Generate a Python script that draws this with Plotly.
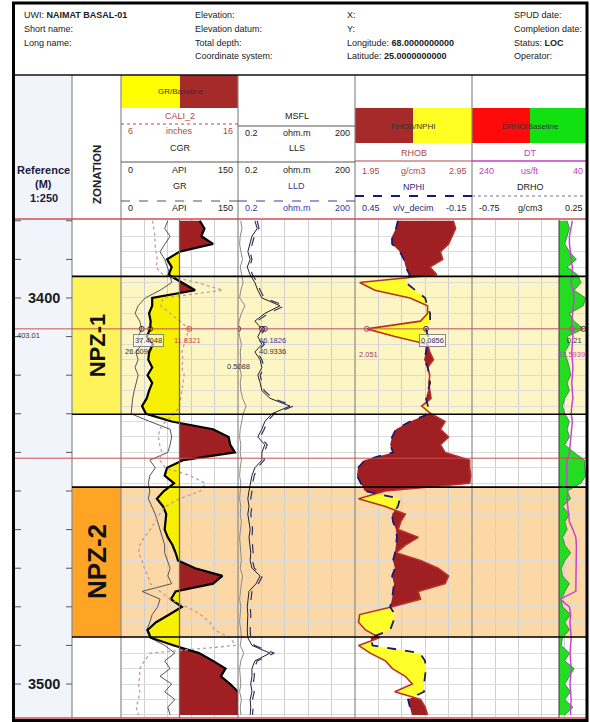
import numpy as np
import plotly.graph_objects as go

W, H = 590, 722
def X(px): return px / W
def Y(py): return 1 - py / H

# ---------------- data ----------------
depth = [3380, 3382, 3384, 3386, 3388, 3390, 3392, 3394, 3396, 3398,
         3400, 3402, 3404, 3406, 3408, 3410, 3412, 3414, 3416, 3418,
         3420, 3422, 3424, 3426, 3428, 3430, 3432, 3434, 3436, 3438,
         3440, 3442, 3444, 3446, 3448, 3450, 3452, 3454, 3456, 3458,
         3460, 3462, 3464, 3466, 3468, 3470, 3472, 3474, 3476, 3478,
         3480, 3482, 3484, 3486, 3488, 3490, 3492, 3494, 3496, 3498,
         3500, 3502, 3504, 3506, 3508]

gr = [101, 107, 103, 118, 75, 59, 65, 61, 78, 95,
      40, 40, 36, 38, 37.4048, 33, 41, 36, 35, 40,
      34, 40, 36, 33, 27, 32, 65, 118, 138, 140,
      146, 80, 59, 56, 68, 55, 46, 54, 58, 57,
      56, 60, 66, 70, 73, 95, 130, 118, 70, 64,
      78, 62, 45, 34, 38, 68, 100, 118, 134, 128,
      140, 150, 150, 150, 150]

cgr = [60, 56, 63, 56, 50, 56, 60, 63, 65, 50,
       31, 22, 18, 24, 26.6097, 22, 27, 19, 22, 18,
       22, 19, 17, 15, 14, 13, 37, 63, 65, 63,
       60, 37, 44, 37, 35, 37, 35, 40, 44, 47,
       50, 54, 56, 56, 60, 63, 60, 65, 27, 50,
       47, 40, 37, 33, 37, 56, 69, 56, 63, 50,
       65, 56, 69, 60, 63]

cali_2 = [8.7, 8.8, 8.9, 8.9, 9.0, 9.1, 9.0, 9.6, 12.5, 14.7,
          9.6, 9.4, 10.2, 11.0, 11.8321, 11.6, 11.4, 11.2, 11.3, 11.2,
          11.4, 11.3, 11.2, 11.1, 11.0, 10.6, 9.8, 9.3, 9.2, 9.3,
          9.5, 9.3, 9.8, 11.9, 13.2, 12.8, 11.0, 9.8, 9.3, 8.9,
          8.5, 8.0, 7.6, 7.5, 7.8, 8.0, 8.3, 8.5, 9.3, 10.2,
          11.6, 12.8, 13.6, 14.0, 15.3, 15.8, 8.5, 8.0, 7.6, 7.6,
          7.5, 7.6, 7.5, 7.3, 7.5]

msfl = [5, 7, 4, 3, 5, 8, 4, 6, 9, 5,
        3, 12, 6, 2, 0.5088, 3, 6, 4, 5, 3,
        6, 4, 5, 8, 14, 9, 6, 4, 3, 5,
        4, 6, 4, 3, 5, 4, 3, 5, 4, 6,
        5, 3, 4, 5, 6, 4, 8, 6, 4, 3,
        5, 4, 3, 5, 6, 4, 10, 5, 3, 4,
        5, 3, 6, 4, 5]

lls = [29, 33, 24, 21, 17, 21, 16, 21, 29, 34,
       41, 72, 46, 29, 40.9336, 34, 41, 29, 38, 41,
       34, 38, 41, 55, 89, 58, 46, 41, 34, 46,
       41, 41, 29, 24, 21, 19, 17, 19, 17, 19,
       21, 19, 21, 22, 21, 24, 38, 31, 19, 17,
       16, 17, 16, 16, 17, 24, 55, 29, 24, 24,
       22, 24, 21, 22, 21]

lld = [33, 36, 28, 24, 21, 24, 20, 25, 33, 38,
       45, 80, 52, 33, 46.1826, 38, 45, 33, 41, 45,
       38, 41, 45, 60, 95, 62, 50, 45, 38, 50,
       45, 45, 33, 28, 25, 24, 22, 24, 22, 24,
       25, 24, 25, 26, 25, 28, 42, 35, 24, 22,
       21, 22, 21, 21, 22, 28, 62, 33, 28, 28,
       26, 28, 25, 26, 25]

rhob = [2.79, 2.81, 2.78, 2.75, 2.68, 2.70, 2.59, 2.65, 1.99, 2.12,
        2.42, 2.57, 2.57, 2.51, 2.051, 2.29, 2.57, 2.59, 2.62, 2.57,
        2.59, 2.58, 2.59, 2.60, 2.52, 2.60, 2.72, 2.68, 2.75, 2.68,
        2.72, 2.93, 2.93, 2.94, 2.93, 2.21, 1.98, 2.21, 2.38, 2.34,
        2.32, 2.49, 2.38, 2.30, 2.51, 2.66, 2.75, 2.72, 2.49, 2.51,
        2.27, 1.99, 1.98, 2.04, 2.16, 1.98, 2.08, 2.21, 2.27, 2.38,
        2.44, 2.29, 2.51, 2.55, 2.57]

nphi = [0.23, 0.24, 0.26, 0.26, 0.22, 0.20, 0.19, 0.17, 0.19, 0.14,
        0.09, 0.08, 0.065, 0.065, 0.0856, 0.076, 0.081, 0.086, 0.096, 0.076,
        0.071, 0.065, 0.076, 0.086, 0.076, 0.071, 0.168, 0.24, 0.26, 0.27,
        0.255, 0.40, 0.435, 0.44, 0.42, 0.40, 0.22, 0.23, 0.26, 0.255,
        0.24, 0.235, 0.24, 0.245, 0.255, 0.245, 0.26, 0.25, 0.255, 0.26,
        0.27, 0.245, 0.255, 0.27, 0.37, 0.36, 0.117, 0.091, 0.086, 0.091,
        0.096, 0.096, 0.178, 0.168, 0.158]

drho = [0.07, 0.09, 0.07, 0.05, 0.09, 0.15, 0.07, 0.16, 0.19, 0.13,
        0.23, 0.21, 0.09, 0.13, 0.21, 0.07, 0.09, 0.05, 0.07, 0.09,
        0.10, 0.07, 0.09, 0.05, 0.03, 0.05, 0.09, 0.07, 0.09, 0.05,
        0.13, 0.22, 0.22, 0.23, 0.19, 0.07, 0.10, 0.03, 0.09, 0.05,
        0.07, 0.03, 0.05, 0.10, 0.05, 0.02, 0.03, 0.09, 0.05, 0.02,
        0.03, 0.10, 0.05, 0.09, 0.03, 0.02, 0.09, 0.05, 0.13, 0.09,
        0.05, 0.10, 0.05, 0.12, 0.05]

dt = [67, 70, 72, 72, 71, 69, 67, 68, 69, 66,
      64, 65, 67, 68, 67.5939, 66, 67, 68, 67, 66,
      67, 68, 67, 66, 68, 69, 67, 68, 69, 70,
      72, 76, 77, 76, 77, 75, 76, 75, 74, 72,
      66, 61, 60, 60, 61, 60, 60, 61, 61, 88,
      72, 70, 71, 70, 69, 70, 71, 70, 69, 70,
      71, 70, 69, 70, 70]

for arr in (gr, cgr, cali_2, msfl, lls, lld, rhob, nphi, drho, dt):
    assert len(arr) == len(depth)

zone_names = ["NPZ-1", "NPZ-2"]
zone_top = [3394.4, 3449.0]
zone_base = [3430.1, 3487.8]
zone_cell_colors = ["#fff35c", "#ffa424"]
zone_band_colors = ["#fdf6c4", "#fbd8a5"]
zone_font_sizes = [22, 26]

cursor_depths = [3408.0, 3441.5]
cursor_label = "403.01"
depth_range = [3508.8, 3379.8]
ref_ticks = [3380, 3390, 3400, 3410, 3420, 3430, 3440, 3450, 3460, 3470, 3480, 3490, 3500]
ref_labels = [3400, 3500]

gr_range = [0, 150]
cali_range = [6, 16]
res_range = [0.2, 200]
rhob_range = [1.95, 2.95]
nphi_range = [0.45, -0.15]
drho_range = [-0.75, 0.25]
dt_range = [240, 40]
gr_baseline = 75
drho_baseline = 0.0

# ---------------- helpers ----------------
def cross_fill(y, a, b, sign):
    y = np.asarray(y, float); a = np.asarray(a, float); b = np.asarray(b, float)
    ys, av, bv = [y[0]], [a[0]], [b[0]]
    for i in range(len(y) - 1):
        d0 = a[i] - b[i]; d1 = a[i + 1] - b[i + 1]
        if d0 * d1 < 0:
            t = d0 / (d0 - d1)
            yc = y[i] + t * (y[i + 1] - y[i])
            bc = b[i] + t * (b[i + 1] - b[i])
            ys.append(yc); av.append(bc); bv.append(bc)
        ys.append(y[i + 1]); av.append(a[i + 1]); bv.append(b[i + 1])
    ys = np.array(ys); av = np.array(av); bv = np.array(bv)
    clip = np.where(sign * (av - bv) > 0, av, bv)
    return np.concatenate([clip, bv[::-1]]), np.concatenate([ys, ys[::-1]])

def fill_trace(px, py, xa, color):
    return go.Scatter(x=px, y=py, xaxis=xa, yaxis="y", mode="lines", fill="toself",
                      fillcolor=color, line=dict(width=0), hoverinfo="skip", showlegend=False)

def line_trace(x, xa, color, width=1, dash="solid"):
    return go.Scatter(x=x, y=depth, xaxis=xa, yaxis="y", mode="lines",
                      line=dict(color=color, width=width, dash=dash),
                      hoverinfo="skip", showlegend=False)

shapes = []
annotations = []

def rect_px(x0, y0, x1, y1, fill, line_color=None, lw=0, layer="below"):
    shapes.append(dict(type="rect", xref="paper", yref="paper", x0=X(x0), x1=X(x1),
                       y0=Y(y1), y1=Y(y0), fillcolor=fill, layer=layer,
                       line=dict(width=lw, color=line_color or fill)))

def hline_px(y, x0, x1, color, width=1, dash="solid"):
    shapes.append(dict(type="line", xref="paper", yref="paper", x0=X(x0), x1=X(x1),
                       y0=Y(y), y1=Y(y), line=dict(color=color, width=width, dash=dash)))

def vline_px(x, y0, y1, color, width=1, dash="solid"):
    shapes.append(dict(type="line", xref="paper", yref="paper", x0=X(x), x1=X(x),
                       y0=Y(y0), y1=Y(y1), line=dict(color=color, width=width, dash=dash)))

FONT = "Liberation Sans, Arial, sans-serif"

def text_px(txt, x, y, size=9, color="#222", xanchor="center", angle=0, bold=False):
    if bold:
        txt = "<b>" + txt + "</b>"
    annotations.append(dict(text=txt, x=X(x), y=Y(y), xref="paper", yref="paper",
                            xanchor=xanchor, yanchor="middle", showarrow=False,
                            textangle=angle, font=dict(family=FONT, size=size, color=color)))

# ---------------- traces ----------------
traces = []
# GR track fills
px, py = cross_fill(depth, gr, [gr_baseline] * len(depth), -1)
traces.append(fill_trace(px, py, "x", "#f7f000"))
px, py = cross_fill(depth, gr, [gr_baseline] * len(depth), 1)
traces.append(fill_trace(px, py, "x", "#a01f22"))
traces.append(line_trace(cgr, "x", "#555555", 1))
traces.append(line_trace(gr, "x", "#000000", 2.2))
traces.append(line_trace(cali_2, "x2", "#c49a9a", 1.3, "dot"))

# Resistivity
traces.append(line_trace(msfl, "x3", "#8a8a8a", 1))
traces.append(line_trace(lls, "x3", "#222222", 1))
traces.append(line_trace(lld, "x3", "#2e2e70", 1.2, "dash"))

# Density / Neutron
nphi_eq = [rhob_range[0] + (nphi_range[0] - v) / (nphi_range[0] - nphi_range[1])
           * (rhob_range[1] - rhob_range[0]) for v in nphi]
px, py = cross_fill(depth, rhob, nphi_eq, 1)
traces.append(fill_trace(px, py, "x4", "#a01f22"))
px, py = cross_fill(depth, rhob, nphi_eq, -1)
traces.append(fill_trace(px, py, "x4", "#ffff2a"))
traces.append(line_trace(rhob, "x4", "#b8322a", 1.6))
traces.append(line_trace(nphi, "x5", "#1a1a6e", 1.8, "dash"))

# DT / DRHO
px, py = cross_fill(depth, drho, [drho_baseline] * len(depth), 1)
traces.append(fill_trace(px, py, "x6", "#22dd22"))
traces.append(line_trace(drho, "x6", "#4a6a4a", 0.8))
traces.append(line_trace(dt, "x7", "#c845d0", 1.5))

# cursor markers
ci = depth.index(int(cursor_depths[0]))
for vals, xa, col in [(gr, "x", "#333"), (cgr, "x", "#333"), (cali_2, "x2", "#c04848"),
                      (lld, "x3", "#3a3aa0"), (lls, "x3", "#333"), (msfl, "x3", "#333"),
                      (rhob, "x4", "#a04070"), (nphi, "x5", "#2a2a7a"),
                      (drho, "x6", "#333"), (dt, "x7", "#c040c0")]:
    traces.append(go.Scatter(x=[vals[ci]], y=[depth[ci]], xaxis=xa, yaxis="y", mode="markers",
                             marker=dict(symbol="circle-open", size=5, color=col, line=dict(width=1)),
                             hoverinfo="skip", showlegend=False))

fig = go.Figure(traces)

# ---------------- backgrounds ----------------
rect_px(15, 75, 72, 718, "#f1f5fb")
for top, base, cc, bc in zip(zone_top, zone_base, zone_cell_colors, zone_band_colors):
    shapes.append(dict(type="rect", xref="paper", yref="y", x0=X(121), x1=X(588), y0=top, y1=base,
                       fillcolor=bc, line=dict(width=0), layer="below"))
    shapes.append(dict(type="rect", xref="paper", yref="y", x0=X(72), x1=X(121), y0=top, y1=base,
                       fillcolor=cc, line=dict(width=0), layer="below"))

# header colored boxes
rect_px(121, 75, 180, 108, "#ffff00")
rect_px(180, 75, 238, 108, "#a52a2a")
rect_px(355, 108, 413, 143, "#a52a2a")
rect_px(413, 108, 472, 143, "#ffff22")
rect_px(472, 108, 530, 143, "#ff0a0a")
rect_px(530, 108, 588, 143, "#11e011")

# baselines
shapes.append(dict(type="line", xref="x", yref="y", x0=gr_baseline, x1=gr_baseline,
                   y0=depth_range[0], y1=depth_range[1], line=dict(color="#6a6a6a", width=1.3)))
shapes.append(dict(type="line", xref="x6", yref="y", x0=drho_baseline, x1=drho_baseline,
                   y0=depth_range[0], y1=depth_range[1], line=dict(color="#3a3a3a", width=1)))

# track borders
for xb in [72, 121, 238, 355, 472]:
    vline_px(xb, 75, 718, "#8a8a8a", 1.2)

# header row lines
hline_px(124, 121, 238, "#b04848", 1, "dot")
hline_px(162, 121, 238, "#555555", 1)
hline_px(201, 121, 238, "#555555", 1, "dash")
hline_px(126, 238, 355, "#555555", 1)
hline_px(162, 238, 355, "#555555", 1)
hline_px(201, 238, 355, "#3a3aa0", 1.2, "dash")
hline_px(161, 355, 472, "#b04848", 1.2)
hline_px(196, 355, 472, "#1a1a6e", 2, "dash")
hline_px(161, 472, 588, "#c040c0", 1.5)
hline_px(196, 472, 588, "#777777", 1, "dot")

# zone boundaries
for d in zone_top + zone_base:
    shapes.append(dict(type="line", xref="paper", yref="y", x0=X(72), x1=X(588), y0=d, y1=d,
                       line=dict(color="#000000", width=1.6)))

# red lines
hline_px(219, 15, 588, "#c85050", 1.6)
hline_px(718, 15, 588, "#c85050", 1.6)
for d in cursor_depths:
    shapes.append(dict(type="line", xref="paper", yref="y", x0=X(15), x1=X(588), y0=d, y1=d,
                       line=dict(color="#c85050", width=1)))

# reference ticks
for d in ref_ticks:
    for xa, xb in [(15, 21), (66, 72)]:
        shapes.append(dict(type="line", xref="paper", yref="y", x0=X(xa), x1=X(xb), y0=d, y1=d,
                           line=dict(color="#555555", width=1)))

# header separator & frame
hline_px(75, 15, 588, "#111111", 1.5)
shapes.append(dict(type="rect", xref="paper", yref="paper", x0=X(13.5), x1=X(587), y0=Y(720.5), y1=Y(3),
                   line=dict(color="#000000", width=3), fillcolor="rgba(0,0,0,0)", layer="above"))

# ---------------- texts ----------------
hdr = [("UWI: <b>NAIMAT BASAL-01</b>", 22, 15), ("Short name:", 22, 29), ("Long name:", 22, 43),
       ("Elevation:", 193, 15), ("Elevation datum:", 193, 29), ("Total depth:", 193, 43),
       ("Coordinate system:", 193, 56),
       ("X:", 345, 15), ("Y:", 345, 29), ("Longitude: <b>68.0000000000</b>", 345, 43),
       ("Latitude: <b>25.0000000000</b>", 345, 56),
       ("SPUD date:", 512, 15), ("Completion date:", 512, 29), ("Status: <b>LOC</b>", 512, 43),
       ("Operator:", 512, 56)]
for t, x, y in hdr:
    text_px(t, x, y, 9, "#222", "left")

text_px("Reference", 43.5, 170, 11, "#1a1a3a", bold=True)
text_px("(M)", 43.5, 184, 11, "#1a1a3a", bold=True)
text_px("1:250", 43.5, 198, 11, "#1a1a3a", bold=True)
text_px("ZONATION", 97, 175, 11.5, "#222", angle=-90, bold=True)

text_px("GR/Baseline", 180, 91, 8, "#333")
text_px("RHOB/NPHI", 413, 126, 8, "#333")
text_px("DRHO/Baseline", 530, 126, 8, "#333")

def scale_row(y, left, mid, right, x0, x1, color):
    text_px(left, x0 + 5, y, 9, color, "left")
    text_px(mid, (x0 + x1) / 2, y, 9, color)
    text_px(right, x1 - 3, y, 9, color, "right")

RB = "#b04848"; NV = "#2a2a7a"; BL = "#3a3aa0"; MG = "#c040c0"; BK = "#222"
text_px("CALI_2", 180, 116, 9, RB)
scale_row(131, "6", "inches", "16", 121, 238, RB)
text_px("CGR", 180, 148, 9, BK)
scale_row(170, "0", "API", "150", 121, 238, BK)
text_px("GR", 180, 186, 9, BK)
scale_row(208, "0", "API", "150", 121, 238, BK)

text_px("MSFL", 296.5, 116, 9, BK)
scale_row(133, "0.2", "ohm.m", "200", 238, 355, BK)
text_px("LLS", 296.5, 148, 9, BK)
scale_row(170, "0.2", "ohm.m", "200", 238, 355, BK)
text_px("LLD", 296.5, 186, 9, BL)
scale_row(208, "0.2", "ohm.m", "200", 238, 355, BL)

text_px("RHOB", 413.5, 153, 9, RB)
scale_row(171, "1.95", "g/cm3", "2.95", 355, 472, RB)
text_px("NPHI", 413.5, 187, 9, NV)
scale_row(208, "0.45", "v/v_decim", "-0.15", 355, 472, NV)

text_px("DT", 530, 153, 9, MG)
scale_row(171, "240", "us/ft", "40", 472, 588, MG)
text_px("DRHO", 530, 187, 9, BK)
scale_row(208, "-0.75", "g/cm3", "0.25", 472, 588, BK)

# depth labels
for d in ref_labels:
    annotations.append(dict(text="<b>%d</b>" % d, x=X(43.5), y=d, xref="paper", yref="y",
                            showarrow=False, xanchor="center", yanchor="middle",
                            font=dict(family=FONT, size=14.5, color="#1a1a1a")))

# zone labels
for name, top, base, fs in zip(zone_names, zone_top, zone_base, zone_font_sizes):
    annotations.append(dict(text="<b>%s</b>" % name, x=X(97), y=(top + base) / 2, xref="paper", yref="y",
                            showarrow=False, textangle=-90, xanchor="center", yanchor="middle",
                            font=dict(family=FONT, size=fs, color="#111")))

# cursor readouts
cd = cursor_depths[0]
def readout(txt, x, dy, color, box=False, xanchor="center"):
    a = dict(text=txt, x=X(x), y=cd, xref="paper", yref="y", showarrow=False,
             xanchor=xanchor, yanchor="middle", yshift=dy,
             font=dict(family=FONT, size=7.5, color=color))
    if box:
        a.update(bordercolor="#888", borderwidth=1, borderpad=1, bgcolor="rgba(255,255,255,0.6)")
    annotations.append(a)

fmt = lambda v: "%.6g" % v
readout(cursor_label, 14.5, -7, "#333", xanchor="left")
readout(fmt(gr[ci]), 148, -12, "#333", True)
readout(fmt(cgr[ci]), 138, -23, "#333")
readout(fmt(cali_2[ci]), 188, -12, "#c04848")
readout(fmt(lld[ci]), 272, -12, BL)
readout(fmt(lls[ci]), 272, -23, "#333")
readout(fmt(msfl[ci]), 238, -38, "#333")
readout(fmt(rhob[ci]), 368, -26, "#a04070")
readout(fmt(nphi[ci]), 432, -12, NV, True)
readout(fmt(drho[ci]), 584, -12, "#333", xanchor="right")
readout(fmt(dt[ci]), 571, -26, MG)

# ---------------- layout ----------------
base_x = dict(showticklabels=False, ticks="", showline=False, zeroline=False, showgrid=True,
              gridcolor="#cfcfcf", gridwidth=1, fixedrange=True, anchor="y")
ov_x = dict(visible=False, showgrid=False, zeroline=False, fixedrange=True, anchor="y")

fig.update_layout(
    width=W, height=H, autosize=False,
    margin=dict(l=0, r=0, t=0, b=0, pad=0),
    paper_bgcolor="white", plot_bgcolor="rgba(0,0,0,0)",
    showlegend=False,
    xaxis=dict(base_x, domain=[X(121), X(238)], range=gr_range,
               tickvals=[0, 30, 60, 90, 120, 150]),
    xaxis2=dict(ov_x, overlaying="x", range=cali_range),
    xaxis3=dict(base_x, domain=[X(238), X(355)], range=res_range,
                tickvals=[0.2, 40.16, 80.12, 120.08, 160.04, 200]),
    xaxis4=dict(base_x, domain=[X(355), X(472)], range=rhob_range,
                tickvals=[1.95, 2.15, 2.35, 2.55, 2.75, 2.95]),
    xaxis5=dict(ov_x, overlaying="x4", range=nphi_range),
    xaxis6=dict(base_x, domain=[X(472), X(588)], range=drho_range,
                tickvals=[-0.75, -0.55, -0.35, -0.15, 0.05, 0.25]),
    xaxis7=dict(ov_x, overlaying="x6", range=dt_range),
    yaxis=dict(domain=[Y(718), Y(220)], range=depth_range, showticklabels=False, ticks="",
               showgrid=True, gridcolor="#dcdcdc", gridwidth=1, dtick=4, tick0=3380,
               zeroline=False, showline=False, fixedrange=True, anchor="x"),
    shapes=shapes,
    annotations=annotations,
)

fig.write_html("out.html")
